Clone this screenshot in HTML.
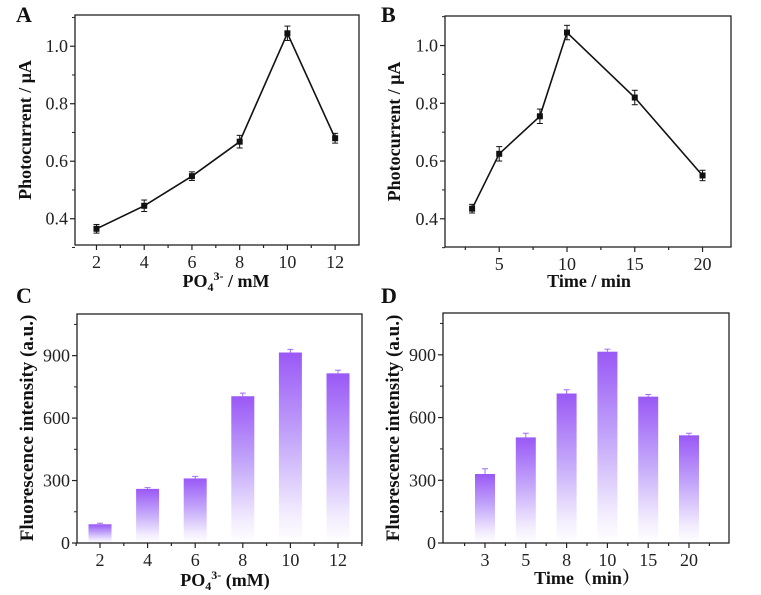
<!DOCTYPE html>
<html><head><meta charset="utf-8"><style>
body{margin:0;background:#fff;}
svg{display:block;font-family:"Liberation Serif",serif;}
</style></head><body>
<svg id="fig" width="761" height="595" viewBox="0 0 761 595">
<defs>
<linearGradient id="bg" x1="0" y1="0" x2="0" y2="1">
<stop offset="0" stop-color="#9a58f6"/>
<stop offset="0.45" stop-color="#c3a6fa"/>
<stop offset="0.85" stop-color="#f3edfe"/>
<stop offset="1" stop-color="#ffffff"/>
</linearGradient>
</defs>
</svg>
<script>
// Panel A data
const aX=[2,4,6,8,10,12];
const aY=[0.365,0.445,0.548,0.668,1.045,0.68];
const aErr=[0.015,0.02,0.015,0.022,0.025,0.017];
const aTicksX=[2,4,6,8,10,12];
const aTicksY=[0.4,0.6,0.8,1.0];
// Panel B data
const bX=[3,5,8,10,15,20];
const bY=[0.435,0.625,0.755,1.045,0.82,0.55];
const bErr=[0.015,0.025,0.025,0.025,0.025,0.018];
const bTicksX=[5,10,15,20];
const bTicksY=[0.4,0.6,0.8,1.0];
// Panel C data
const cCats=["2","4","6","8","10","12"];
const cVals=[90,260,310,705,915,815];
const cErr=[5,6,10,15,15,15];
const cTicksY=[0,300,600,900];
// Panel D data
const dCats=["3","5","8","10","15","20"];
const dVals=[330,505,715,915,700,515];
const dErr=[25,20,18,12,10,10];
const dTicksY=[0,300,600,900];

const svg=document.getElementById('fig');
const NS='http://www.w3.org/2000/svg';
function el(tag,attrs,parent){const e=document.createElementNS(NS,tag);for(const k in attrs)e.setAttribute(k,attrs[k]);(parent||svg).appendChild(e);return e;}
function txt(x,y,s,attrs,parent){const t=el('text',Object.assign({x:x,y:y},attrs),parent);t.textContent=s;return t;}
const TF=18;

function frame(g,L,R,T,B){
  const r=el('rect',{x:L,y:T,width:R-L,height:B-T,fill:'none',stroke:'#222','stroke-width':1.3},g);
  
  
}
function yTicks(g,L,ticks,ys,fmt,minor){
  ticks.forEach(v=>{const y=ys(v);
    el('line',{x1:L-5,x2:L,y1:y,y2:y,stroke:'#222','stroke-width':1.2},g);
    const t=txt(L-7,y+6,fmt(v),{'text-anchor':'end','font-size':TF,fill:'#222'},g);
    
    
  });
  minor.forEach(v=>{const y=ys(v);el('line',{x1:L-3,x2:L,y1:y,y2:y,stroke:'#222','stroke-width':1},g);});
}
function xTick(g,x,B,label,major){
  el('line',{x1:x,x2:x,y1:B,y2:B+(major?5:3),stroke:'#222','stroke-width':1.2},g);
  if(label!==null){const t=txt(x,B+23,label,{'text-anchor':'middle','font-size':TF,fill:'#222'},g);
    
    }
}
function letter(x,y,s){const t=txt(x,y,s,{'font-size':22,'font-weight':'bold',fill:'#111'});
  
  }
function yTitle(g,x,y,s,fs){const t=txt(0,0,s,{'font-size':fs||18,'font-weight':'bold','text-anchor':'middle',transform:`translate(${x},${y}) rotate(-90)`,fill:'#111'},g);
  
  return t;}

function linePanel(name,L,R,T,B,xmin,xmax,ymin,ymax,X,Y,E,tx,ty,minorX,tx0){
  const g=el('g',{});
  
  
  const xs=v=>L+(v-xmin)/(xmax-xmin)*(R-L);
  const ys=v=>B-(v-ymin)/(ymax-ymin)*(B-T);
  frame(g,L,R,T,B);
  const minY=[];for(let v=0.3;v<=1.11;v+=0.1){const r=Math.round(v*10)/10;if(!ty.includes(r))minY.push(r);}
  yTicks(g,L,ty,ys,v=>v.toFixed(1),minY);
  tx.forEach(v=>xTick(g,xs(v),B,String(v),true));
  minorX.forEach(v=>xTick(g,xs(v),B,null,false));
  const pts=X.map((x,i)=>xs(x)+','+ys(Y[i])).join(' ');
  const pl=el('polyline',{points:pts,fill:'none',stroke:'#111','stroke-width':1.6},g);
  
  
  X.forEach((x,i)=>{const cx=xs(x),cy=ys(Y[i]),e1=ys(Y[i]+E[i]),e2=ys(Y[i]-E[i]);
    el('line',{x1:cx,x2:cx,y1:e1,y2:e2,stroke:'#111','stroke-width':1},g);
    el('line',{x1:cx-3,x2:cx+3,y1:e1,y2:e1,stroke:'#111','stroke-width':1},g);
    el('line',{x1:cx-3,x2:cx+3,y1:e2,y2:e2,stroke:'#111','stroke-width':1},g);
    const m=el('rect',{x:cx-3,y:cy-3,width:6,height:6,fill:'#111'},g);
    
    
  });
  yTitle(g,tx0,(T+B)/2,'Photocurrent / μA',18);
  return g;
}

function barPanel(name,L,R,T,B,ymax,cats,vals,errs,first,last,bw,ty){
  const g=el('g',{});
  
  
  const ys=v=>B-v/ymax*(B-T);
  const step=(last-first)/(cats.length-1);
  const xs=i=>first+i*step;
  const minY=[150,450,750,1050];
  yTicks(g,L,ty,ys,v=>String(v),minY);
  cats.forEach((c,i)=>{const cx=xs(i);
    const r=el('rect',{x:cx-bw/2,y:ys(vals[i]),width:bw,height:B-ys(vals[i]),fill:'url(#bg)'},g);
    
    
    const e=ys(vals[i]+errs[i]);
    el('line',{x1:cx,x2:cx,y1:e,y2:ys(vals[i]),stroke:'#a26cf5','stroke-width':1},g);
    el('line',{x1:cx-3,x2:cx+3,y1:e,y2:e,stroke:'#a26cf5','stroke-width':1},g);
    xTick(g,cx,B,c,true);
    if(i<cats.length-1)xTick(g,cx+step/2,B,null,false);
  });
  xTick(g,first-step/2,B,null,false);xTick(g,last+step/2,B,null,false);
  frame(g,L,R,T,B);
  return g;
}

// Panel A
letter(16,22,'A');
const gA=linePanel('panel-a-chart',75,359,15,245,1.1,13.0,0.3086,1.1086,aX,aY,aErr,aTicksX,aTicksY,[3,5,7,9,11],31);
let t=txt(226,287,'',{'text-anchor':'middle','font-size':18,'font-weight':'bold',fill:'#111'},gA);
t.innerHTML='PO<tspan font-size="12" dy="4">4</tspan><tspan font-size="12" dy="-11">3-</tspan><tspan dy="7"> / mM</tspan>';



// Panel B
letter(381,22,'B');
const gB=linePanel('panel-b-chart',445,731,16,247,1.0,22.1,0.3023,1.1023,bX,bY,bErr,bTicksX,bTicksY,[2.5,7.5,12.5,17.5],400);
t=txt(589,287,'Time / min',{'text-anchor':'middle','font-size':18,'font-weight':'bold',fill:'#111'},gB);



// Panel C
letter(16,303,'C');
const gC=barPanel('panel-c-chart',77,362,314,543,1100,cCats,cVals,cErr,100,338,23,cTicksY);
yTitle(gC,33,428,'Fluorescence intensity (a.u.)',19);
t=txt(225,586,'',{'text-anchor':'middle','font-size':18,'font-weight':'bold',fill:'#111'},gC);
t.innerHTML='PO<tspan font-size="12" dy="4">4</tspan><tspan font-size="12" dy="-11">3-</tspan><tspan dy="7"> (mM)</tspan>';



// Panel D
letter(381,303,'D');
const gD=barPanel('panel-d-chart',443,729,313,543,1100,dCats,dVals,dErr,485,689,20,dTicksY);
yTitle(gD,399,428,'Fluorescence intensity (a.u.)',19);
t=txt(587,584,'Time（min）',{'text-anchor':'middle','font-size':18,'font-weight':'bold',fill:'#111'},gD);
t.setAttribute('font-family','"Liberation Serif","Noto Serif CJK SC",serif');


</script>
</body></html>
